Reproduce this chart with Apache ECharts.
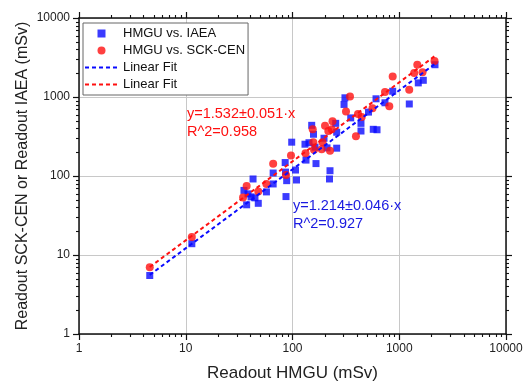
<!DOCTYPE html>
<html><head><meta charset="utf-8">
<script src="https://cdn.jsdelivr.net/npm/echarts@6/dist/echarts.min.js"></script>
<style>html,body{margin:0;padding:0;background:#fff}#c{width:526px;height:387px}</style>
</head><body><div id="c"></div>
<script>
// ---- data ----
const axisMin = 1;
const axisMax = 10000;
const minorMultipliers = [2,3,4,5,6,7,8,9];
const decades = [1,10,100,1000];

const iaeaPoints = [
 [4.6,5.5],[11.4,13.9],[35.1,65.7],[38.3,59.4],[40.9,54.4],[44.5,52.9],[37.2,43.2],[47.8,45.1],
 [42.7,91.7],[57,62.9],[65.9,109],[65.9,79.3],[85.4,148],[86,112],[88.2,87.3],[109,89],[86.9,54.9],
 [106.7,119],[98.3,268],[133.8,159],[166,143.6],[130.9,252.6],[142.7,263.8],[151.3,438],[157.3,337.6],
 [197.3,300.6],[162.5,231.6],[210.5,227],[259.4,225],[224.5,116.6],[222,91.7],[254,464],[259.4,357.7],
 [438,464],[438,371],[571,390],[619,385],[310,977],[304,805],[351,544],[515,644],[606,949],[735,845],
 [868,1183],[1242,816],[1508,1509],[1680,1627],[2162,2563]
];
const sckPoints = [
 [4.6,7.0],[11.4,16.9],[34.4,53.6],[37.2,74.8],[47.8,63.8],[57,79.3],[65.9,142.8],[86.9,102.9],
 [96.8,182],[132.4,194.7],[156.6,267.7],[159,215.4],[187.7,218.6],[191,267.7],[201.6,431.8],[232.9,390],
 [237,491.7],[224.5,208],[154.6,390],[317,657],[345.6,1015],[410.7,611],[445,560],[561.6,722.8],
 [735.5,1156],[806.7,766],[868,1811],[1240,1232],[1476,2563],[1380,2016],[1651,2063],[2139,2862],
 [393,318.6],[216.5,371]
];
const iaeaFit = [[4.6,5.6],[2162,2625]];
const sckFit = [[4.6,7.05],[2162,3312]];

const seriesNames = ['HMGU vs. IAEA','HMGU vs. SCK-CEN','Linear Fit','Linear Fit\u200b'];
const sckFitText = ['y=1.532\u00b10.051\u00b7x','R^2=0.958'];
const iaeaFitText = ['y=1.214\u00b10.046\u00b7x','R^2=0.927'];
const xTitle = 'Readout HMGU (mSv)';
const yTitle = 'Readout SCK-CEN or Readout IAEA (mSv)';

// ---- chart ----
const FONT = '"Liberation Sans", Arial, sans-serif';
const BLUE = '#0a0aff';
const RED = '#ff1010';
const chart = echarts.init(document.getElementById('c'), null, {renderer:'canvas'});

function logAxis(extra) {
  return Object.assign({
    type:'log', logBase:10, min:axisMin, max:axisMax,
    axisLine:{show:true, onZero:false, lineStyle:{color:'#111', width:1.5}},
    axisTick:{show:true, inside:false, length:6, lineStyle:{color:'#111', width:1.2}},
    splitLine:{show:false},
    axisLabel:{show:false}
  }, extra);
}
const plainLabel = v => String(Math.round(v));

const option = {
  animation:false,
  backgroundColor:'#fff',
  grid:{left:79, top:18, width:427, height:318, containLabel:false},
  xAxis:[
    logAxis({position:'bottom',
      splitLine:{show:true, lineStyle:{color:'#c8c8c8', width:1}},
      axisLabel:{show:true, margin:9, fontSize:12, color:'#222', fontFamily:FONT, formatter:plainLabel},
      name:xTitle, nameLocation:'middle', nameGap:31, nameMoveOverlap:false,
      nameTextStyle:{fontSize:17, color:'#222', fontFamily:FONT}}),
    logAxis({position:'top'})
  ],
  yAxis:[
    logAxis({position:'left',
      splitLine:{show:true, lineStyle:{color:'#c8c8c8', width:1}},
      axisLabel:{show:true, margin:9, fontSize:12, color:'#222', fontFamily:FONT, formatter:plainLabel},
      name:yTitle, nameLocation:'middle', nameGap:48, nameMoveOverlap:false,
      nameTextStyle:{fontSize:16, color:'#222', fontFamily:FONT}}),
    logAxis({position:'right'})
  ],
  legend:{
    orient:'vertical', left:83, top:23,
    data:[
      {name:seriesNames[0], icon:'path://M0,0L1,0L1,1L0,1Z'},
      {name:seriesNames[1], icon:'circle'},
      {name:seriesNames[2], itemStyle:{opacity:0}},
      {name:seriesNames[3], itemStyle:{opacity:0}}
    ],
    itemWidth:33, itemHeight:8, itemGap:4,
    textStyle:{fontSize:13, color:'#111', fontFamily:FONT},
    borderColor:'#666', borderWidth:1, padding:[4,3,4,1],
    backgroundColor:'#fff',
    selectedMode:false
  },
  series:[
    {name:seriesNames[0], type:'scatter', data:iaeaPoints, symbol:'rect', symbolSize:7,
      itemStyle:{color:BLUE}, z:2},
    {name:seriesNames[1], type:'scatter', data:sckPoints, symbol:'circle', symbolSize:8,
      itemStyle:{color:RED}, z:3},
    {name:seriesNames[2], type:'line', data:iaeaFit, symbol:'none', showSymbol:false,
      lineStyle:{color:BLUE, width:2, type:[4,3]}, itemStyle:{color:BLUE}, z:4},
    {name:seriesNames[3], type:'line', data:sckFit, symbol:'none', showSymbol:false,
      lineStyle:{color:RED, width:2, type:[4,3]}, itemStyle:{color:RED}, z:4}
  ]
};
chart.setOption(option);

// minor ticks and annotation text
function px(v){ return chart.convertToPixel({xAxisIndex:0}, v); }
function py(v){ return chart.convertToPixel({yAxisIndex:0}, v); }
const gl = px(axisMin), gr = px(axisMax), gb = py(axisMin), gt = py(axisMax);
const g = [];
const tickStyle = {stroke:'#111', lineWidth:1.1};
decades.forEach(d => minorMultipliers.forEach(m => {
  const v = d*m;
  const x = Math.round(px(v))+0.5, y = Math.round(py(v))+0.5;
  g.push({type:'line', shape:{x1:x,y1:gb,x2:x,y2:gb+3}, style:tickStyle, silent:true});
  g.push({type:'line', shape:{x1:x,y1:gt,x2:x,y2:gt-3}, style:tickStyle, silent:true});
  g.push({type:'line', shape:{x1:gl,y1:y,x2:gl-3,y2:y}, style:tickStyle, silent:true});
  g.push({type:'line', shape:{x1:gr,y1:y,x2:gr+3,y2:y}, style:tickStyle, silent:true});
}));
function addText(lines, left, top, color){
  lines.forEach((t,i)=>{
    g.push({type:'text', left:left, top:top+i*18, z:10,
      style:{text:t, fill:color, font:'14.5px '+FONT}});
  });
}
addText(sckFitText, 187, 106, RED);
addText(iaeaFitText, 293, 198, '#1a1ae0');
chart.setOption({graphic:g});
</script>
</body></html>
